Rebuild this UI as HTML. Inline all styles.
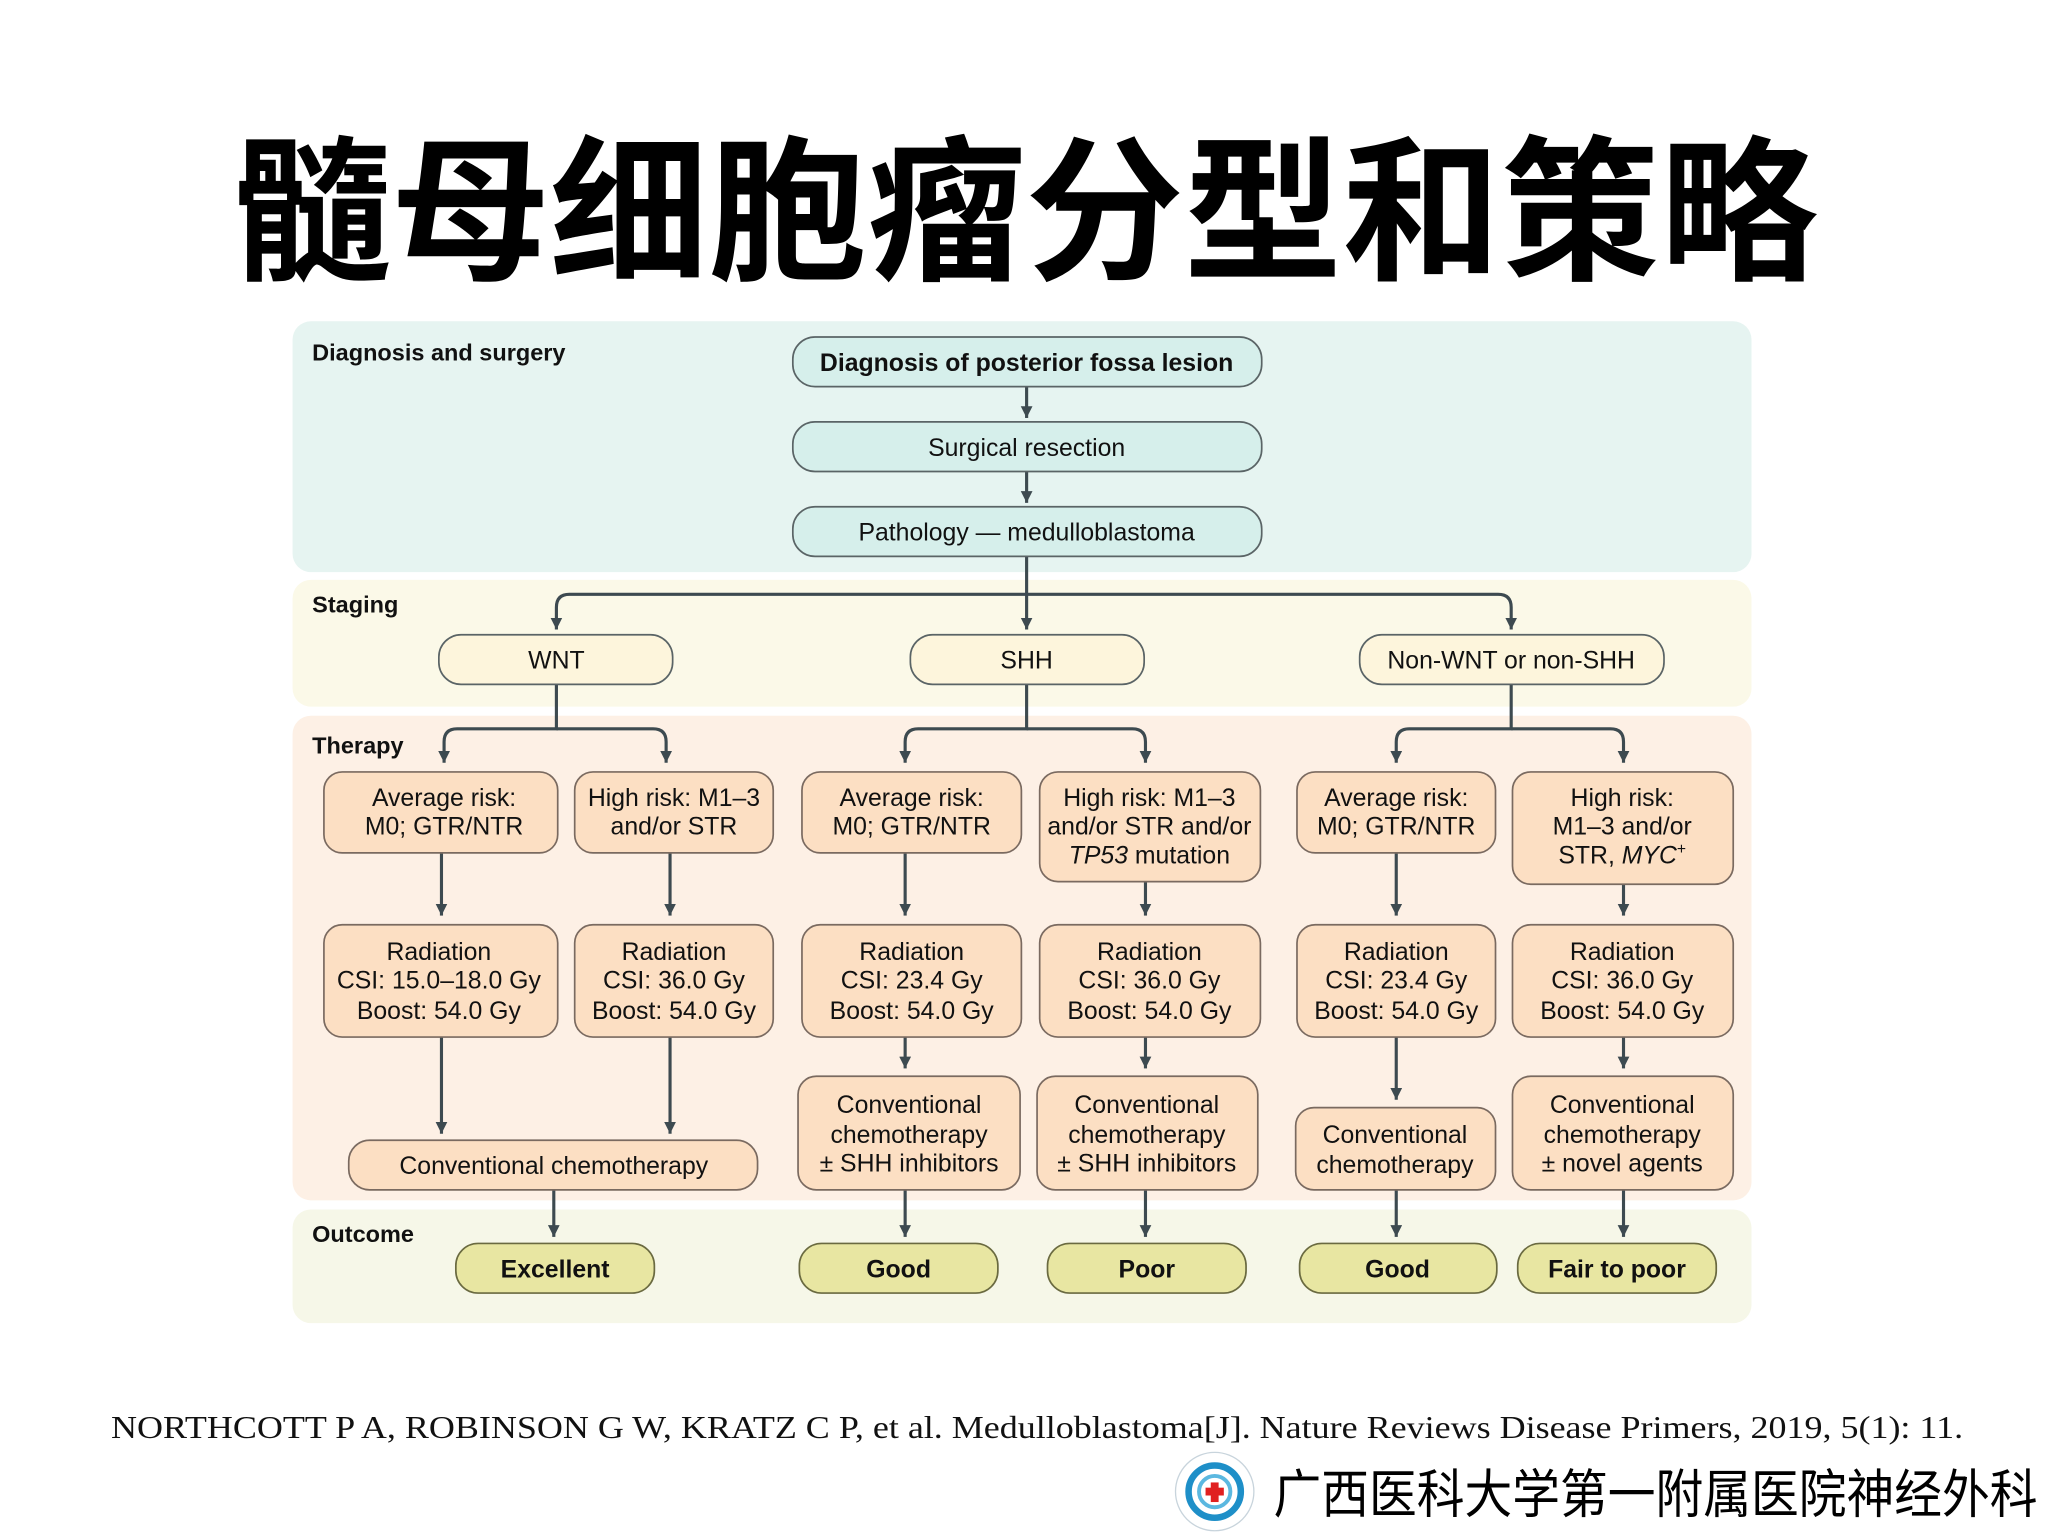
<!DOCTYPE html>
<html><head><meta charset="utf-8"><style>html,body{margin:0;padding:0;background:#fff}svg{display:block}</style></head>
<body>
<svg width="2048" height="1536" viewBox="0 0 1568 1176" preserveAspectRatio="none" xmlns="http://www.w3.org/2000/svg">
<defs>
<marker id="ar" viewBox="0 0 10 10" refX="10" refY="5" markerWidth="9" markerHeight="9" orient="auto" markerUnits="userSpaceOnUse"><path d="M0,0 L10,5 L0,10 z" fill="#3d4a50"/></marker>
</defs>
<rect width="1568" height="1176" fill="#fff"/>
<text x="178" y="205" font-family="'Noto Sans CJK SC', sans-serif" font-weight="700" font-size="120" textLength="1214" lengthAdjust="spacingAndGlyphs">髓母细胞瘤分型和策略</text>

<rect x="224" y="246" width="1117" height="192" rx="14" fill="#e6f4f1"/>
<rect x="224" y="444" width="1117" height="97" rx="14" fill="#fbf9e8"/>
<rect x="224" y="548" width="1117" height="371" rx="14" fill="#fdf0e5"/>
<rect x="224" y="926" width="1117" height="87" rx="14" fill="#f6f7e8"/>

<g font-family="'Liberation Sans', sans-serif" font-weight="700" font-size="18" fill="#111">
<text x="239" y="276">Diagnosis and surgery</text>
<text x="239" y="469">Staging</text>
<text x="239" y="577">Therapy</text>
<text x="239" y="951">Outcome</text>
</g>

<g stroke="#3d4a50" stroke-width="2.4" fill="none" marker-end="url(#ar)">
<line x1="786" y1="296" x2="786" y2="320"/>
<line x1="786" y1="361" x2="786" y2="385"/>
<line x1="786" y1="426" x2="786" y2="482"/>
<path d="M786,455 H436 Q426,455 426,465 V482"/>
<path d="M786,455 H1147 Q1157,455 1157,465 V482"/>
<path d="M426,524 V558 H350 Q340,558 340,568 V584"/>
<path d="M426,558 H500 Q510,558 510,568 V584"/>
<path d="M786,524 V558 H703 Q693,558 693,568 V584"/>
<path d="M786,558 H867 Q877,558 877,568 V584"/>
<path d="M1157,524 V558 H1079 Q1069,558 1069,568 V584"/>
<path d="M1157,558 H1233 Q1243,558 1243,568 V584"/>
<line x1="338" y1="653" x2="338" y2="701"/>
<line x1="513" y1="653" x2="513" y2="701"/>
<line x1="693" y1="653" x2="693" y2="701"/>
<line x1="877" y1="675" x2="877" y2="701"/>
<line x1="1069" y1="653" x2="1069" y2="701"/>
<line x1="1243" y1="677" x2="1243" y2="701"/>
<line x1="338" y1="794" x2="338" y2="868"/>
<line x1="513" y1="794" x2="513" y2="868"/>
<line x1="693" y1="794" x2="693" y2="818"/>
<line x1="877" y1="794" x2="877" y2="818"/>
<line x1="1069" y1="794" x2="1069" y2="842"/>
<line x1="1243" y1="794" x2="1243" y2="818"/>
<line x1="424" y1="911" x2="424" y2="947"/>
<line x1="693" y1="911" x2="693" y2="947"/>
<line x1="877" y1="911" x2="877" y2="947"/>
<line x1="1069" y1="911" x2="1069" y2="947"/>
<line x1="1243" y1="911" x2="1243" y2="947"/>
</g>

<g stroke="#5a6466" stroke-width="1.3">
<rect x="607" y="258" width="359" height="38" rx="17" fill="#d6efeb"/>
<rect x="607" y="323" width="359" height="38" rx="17" fill="#d6efeb"/>
<rect x="607" y="388" width="359" height="38" rx="17" fill="#d6efeb"/>
<rect x="336" y="486" width="179" height="38" rx="17" fill="#fdf5dc"/>
<rect x="697" y="486" width="179" height="38" rx="17" fill="#fdf5dc"/>
<rect x="1041" y="486" width="233" height="38" rx="17" fill="#fdf5dc"/>
</g>
<g stroke="#7a6a60" stroke-width="1.3" fill="#fcdfc3">
<rect x="248" y="591" width="179" height="62" rx="14"/>
<rect x="440" y="591" width="152" height="62" rx="14"/>
<rect x="614" y="591" width="168" height="62" rx="14"/>
<rect x="796" y="591" width="169" height="84" rx="14"/>
<rect x="993" y="591" width="152" height="62" rx="14"/>
<rect x="1158" y="591" width="169" height="86" rx="14"/>
<rect x="248" y="708" width="179" height="86" rx="14"/>
<rect x="440" y="708" width="152" height="86" rx="14"/>
<rect x="614" y="708" width="168" height="86" rx="14"/>
<rect x="796" y="708" width="169" height="86" rx="14"/>
<rect x="993" y="708" width="152" height="86" rx="14"/>
<rect x="1158" y="708" width="169" height="86" rx="14"/>
<rect x="267" y="873" width="313" height="38" rx="16"/>
<rect x="611" y="824" width="170" height="87" rx="14"/>
<rect x="794" y="824" width="169" height="87" rx="14"/>
<rect x="992" y="848" width="153" height="63" rx="14"/>
<rect x="1158" y="824" width="169" height="87" rx="14"/>
</g>
<g stroke="#6a6a40" stroke-width="1.3" fill="#e8e6a2">
<rect x="349" y="952" width="152" height="38" rx="17"/>
<rect x="612" y="952" width="152" height="38" rx="17"/>
<rect x="802" y="952" width="152" height="38" rx="17"/>
<rect x="995" y="952" width="151" height="38" rx="17"/>
<rect x="1162" y="952" width="152" height="38" rx="17"/>
</g>

<g font-family="'Liberation Sans', sans-serif" font-size="19" fill="#111" text-anchor="middle">
<text x="786" y="284" font-weight="700">Diagnosis of posterior fossa lesion</text>
<text x="786" y="349">Surgical resection</text>
<text x="786" y="414">Pathology — medulloblastoma</text>
<text x="426" y="512">WNT</text>
<text x="786" y="512">SHH</text>
<text x="1157" y="512">Non-WNT or non-SHH</text>

<text x="340" y="617">Average risk:</text><text x="340" y="639">M0; GTR/NTR</text>
<text x="516" y="617">High risk: M1–3</text><text x="516" y="639">and/or STR</text>
<text x="698" y="617">Average risk:</text><text x="698" y="639">M0; GTR/NTR</text>
<text x="880" y="617">High risk: M1–3</text><text x="880" y="639">and/or STR and/or</text><text x="880" y="661"><tspan font-style="italic">TP53</tspan> mutation</text>
<text x="1069" y="617">Average risk:</text><text x="1069" y="639">M0; GTR/NTR</text>
<text x="1242" y="617">High risk:</text><text x="1242" y="639">M1–3 and/or</text><text x="1242" y="661">STR, <tspan font-style="italic">MYC</tspan><tspan font-size="12" dy="-7">+</tspan></text>

<text x="336" y="735">Radiation</text><text x="336" y="757">CSI: 15.0–18.0 Gy</text><text x="336" y="780">Boost: 54.0 Gy</text>
<text x="516" y="735">Radiation</text><text x="516" y="757">CSI: 36.0 Gy</text><text x="516" y="780">Boost: 54.0 Gy</text>
<text x="698" y="735">Radiation</text><text x="698" y="757">CSI: 23.4 Gy</text><text x="698" y="780">Boost: 54.0 Gy</text>
<text x="880" y="735">Radiation</text><text x="880" y="757">CSI: 36.0 Gy</text><text x="880" y="780">Boost: 54.0 Gy</text>
<text x="1069" y="735">Radiation</text><text x="1069" y="757">CSI: 23.4 Gy</text><text x="1069" y="780">Boost: 54.0 Gy</text>
<text x="1242" y="735">Radiation</text><text x="1242" y="757">CSI: 36.0 Gy</text><text x="1242" y="780">Boost: 54.0 Gy</text>

<text x="424" y="899">Conventional chemotherapy</text>
<text x="696" y="852">Conventional</text><text x="696" y="875">chemotherapy</text><text x="696" y="897">± SHH inhibitors</text>
<text x="878" y="852">Conventional</text><text x="878" y="875">chemotherapy</text><text x="878" y="897">± SHH inhibitors</text>
<text x="1068" y="875">Conventional</text><text x="1068" y="898">chemotherapy</text>
<text x="1242" y="852">Conventional</text><text x="1242" y="875">chemotherapy</text><text x="1242" y="897">± novel agents</text>

<g font-weight="700">
<text x="425" y="978">Excellent</text>
<text x="688" y="978">Good</text>
<text x="878" y="978">Poor</text>
<text x="1070" y="978">Good</text>
<text x="1238" y="978">Fair to poor</text>
</g>
</g>

<text x="85" y="1101" font-family="'Liberation Serif', serif" font-size="24" fill="#111" textLength="1418" lengthAdjust="spacingAndGlyphs">NORTHCOTT P A, ROBINSON G W, KRATZ C P, et al. Medulloblastoma[J]. Nature Reviews Disease Primers, 2019, 5(1): 11.</text>

<g>
<circle cx="930" cy="1142" r="30" fill="#fff" stroke="#c8d4dc" stroke-width="1"/>
<circle cx="930" cy="1142" r="20" fill="none" stroke="#1e8fc8" stroke-width="5"/>
<circle cx="930" cy="1142" r="12" fill="#fff" stroke="#5bb8e0" stroke-width="3"/>
<rect x="927" y="1135" width="6" height="15" fill="#e02020"/>
<rect x="923" y="1139" width="14" height="6" fill="#e02020"/>
</g>
<text x="975" y="1158" font-family="'Noto Sans CJK SC', sans-serif" font-size="40" fill="#000" textLength="585" lengthAdjust="spacingAndGlyphs">广西医科大学第一附属医院神经外科</text>
</svg>
</body></html>
